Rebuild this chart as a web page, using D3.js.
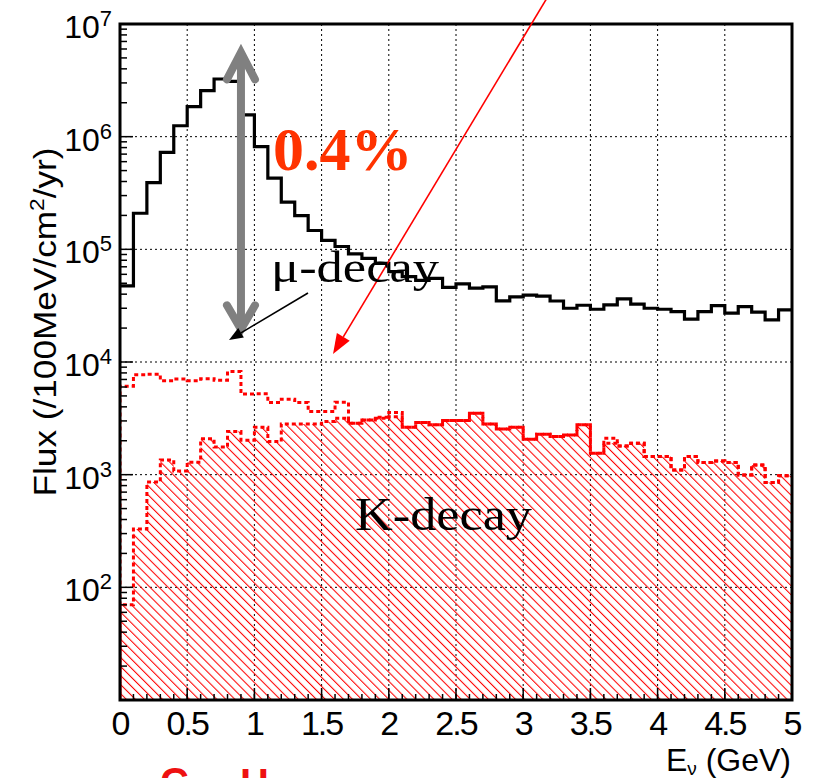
<!DOCTYPE html>
<html>
<head>
<meta charset="utf-8">
<script src="https://cdn.jsdelivr.net/npm/d3@7"></script>
<style>
  body { margin: 0; background: #fff; }
</style>
</head>
<body>
<script>
// bin lower edges (GeV), bins are 0.1 GeV wide
const binLow = [0, 0.1, 0.2, 0.3, 0.4, 0.5, 0.6, 0.7, 0.8, 0.9,
  1.0, 1.1, 1.2, 1.3, 1.4, 1.5, 1.6, 1.7, 1.8, 1.9,
  2.0, 2.1, 2.2, 2.3, 2.4, 2.5, 2.6, 2.7, 2.8, 2.9,
  3.0, 3.1, 3.2, 3.3, 3.4, 3.5, 3.6, 3.7, 3.8, 3.9,
  4.0, 4.1, 4.2, 4.3, 4.4, 4.5, 4.6, 4.7, 4.8, 4.9];
const binMax = 5;

// mu-decay flux
const muDecay = [47300, 209000, 391000, 726000, 1250000, 1850000, 2560000, 3250000, 3090000, 1560000,
  815000, 428000, 262000, 199000, 147000, 120000, 106000, 91200, 83200, 75000,
  63400, 57300, 53100, 55300, 45900, 49300, 45200, 46500, 34900, 37800,
  39200, 38500, 34800, 30000, 31900, 29400, 32100, 36300, 32600, 30000,
  29400, 28000, 24000, 28000, 31600, 27100, 31000, 27700, 23700, 29000];

// K-decay flux, upper dotted curve
const kDecayTotal = [6100, 7710, 7800, 6820, 7060, 6820, 7110, 6890, 8220, 5190,
  5220, 4370, 4680, 4370, 3630, 3630, 4400, 2860, 3060, 3240,
  3560, 2640, 2900, 2770, 3020, 3020, 3510, 2820, 2540, 2640,
  2060, 2290, 2180, 2250, 2770, 1550, 2110, 1800, 1900, 1450,
  1450, 1100, 1450, 1280, 1320, 1280, 995, 1220, 850, 980];

// K-decay flux, hatched curve
const kDecayHatched = [70, 330, 860, 1350, 1080, 1290, 2080, 1760, 2420, 2020,
  2630, 1970, 2820, 2820, 2820, 2960, 3160, 2860, 3060, 3160,
  3270, 2640, 2900, 2770, 3020, 3020, 3510, 2820, 2540, 2640,
  2060, 2290, 2180, 2250, 2770, 1550, 1900, 1800, 1900, 1450,
  1450, 1100, 1450, 1280, 1320, 1280, 995, 1220, 850, 980];

const xTicks = [0, 0.5, 1, 1.5, 2, 2.5, 3, 3.5, 4, 4.5, 5];
const xTickLabels = ["0", "0.5", "1", "1.5", "2", "2.5", "3", "3.5", "4", "4.5", "5"];
const yDecades = [1e2, 1e3, 1e4, 1e5, 1e6, 1e7];
const yDecadeExp = ["2", "3", "4", "5", "6", "7"];

const sans = "'Liberation Sans', Arial, Helvetica, sans-serif";
const serif = "'Liberation Serif', 'Times New Roman', serif";

const W = 815, H = 778;
const margin = { top: 24, right: 23, bottom: 78, left: 120 };
const width = W - margin.left - margin.right;
const height = H - margin.top - margin.bottom;

const svg = d3.select("body").append("svg")
  .attr("width", W).attr("height", H)
  .style("font-family", sans);

const defs = svg.append("defs");
defs.append("pattern")
  .attr("id", "hatch")
  .attr("patternUnits", "userSpaceOnUse")
  .attr("width", 6.4).attr("height", 10)
  .attr("patternTransform", "rotate(-45)")
  .append("line")
  .attr("x1", 0.5).attr("y1", 0).attr("x2", 0.5).attr("y2", 10)
  .attr("stroke", "#ff0000").attr("stroke-width", 1.1);
defs.append("clipPath").attr("id", "plotclip")
  .append("rect").attr("width", width).attr("height", height);

const g = svg.append("g")
  .attr("transform", `translate(${margin.left},${margin.top})`);

const x = d3.scaleLinear().domain([0, 5]).range([0, width]);
const y = d3.scaleLog().domain([10, 1e7]).range([height, 0]);

// grid
g.append("g").selectAll("line").data(xTicks.slice(1, -1)).join("line")
  .attr("x1", d => x(d)).attr("x2", d => x(d))
  .attr("y1", 0).attr("y2", height)
  .attr("stroke", "#000").attr("stroke-width", 1).attr("stroke-dasharray", "2,3");
g.append("g").selectAll("line").data(yDecades.slice(0, -1)).join("line")
  .attr("x1", 0).attr("x2", width)
  .attr("y1", d => y(d)).attr("y2", d => y(d))
  .attr("stroke", "#000").attr("stroke-width", 1).attr("stroke-dasharray", "2,3");

function histPoints(vals, fromBottom) {
  const pts = binLow.map((b, i) => [b, vals[i]]);
  pts.push([binMax, vals[vals.length - 1]]);
  if (fromBottom) pts.unshift([0, 10]);
  return pts;
}

const line = d3.line()
  .x(d => x(d[0])).y(d => y(d[1]))
  .curve(d3.curveStepAfter);

const area = d3.area()
  .x(d => x(d[0])).y0(height).y1(d => y(d[1]))
  .curve(d3.curveStepAfter);

const plot = g.append("g").attr("clip-path", "url(#plotclip)");

// hatched K-decay
plot.append("path")
  .datum(histPoints(kDecayHatched, false))
  .attr("d", area)
  .attr("fill", "url(#hatch)");

plot.append("path")
  .datum(histPoints(kDecayHatched, true))
  .attr("d", line)
  .attr("fill", "none").attr("stroke", "#ff0000").attr("stroke-width", 3)
  .attr("stroke-dasharray", "4,3");

plot.append("path")
  .datum(histPoints(kDecayTotal, true))
  .attr("d", line)
  .attr("fill", "none").attr("stroke", "#ff0000").attr("stroke-width", 3)
  .attr("stroke-dasharray", "4,3").attr("stroke-dashoffset", 3.5);

// mu-decay
plot.append("path")
  .datum(histPoints(muDecay, false))
  .attr("d", line)
  .attr("fill", "none").attr("stroke", "#000").attr("stroke-width", 3.2)
  .attr("stroke-linejoin", "miter");

// ticks
const minorY = [];
yDecades.slice(0, -1).concat([10]).forEach(dec => {
  for (let k = 2; k <= 9; k++) if (dec * k < 1e7) minorY.push(dec * k);
});
g.append("g").selectAll("line").data(minorY).join("line")
  .attr("x1", 0).attr("x2", 7)
  .attr("y1", d => y(d)).attr("y2", d => y(d))
  .attr("stroke", "#000").attr("stroke-width", 1.5);
g.append("g").selectAll("line").data(yDecades).join("line")
  .attr("x1", 0).attr("x2", 13)
  .attr("y1", d => y(d)).attr("y2", d => y(d))
  .attr("stroke", "#000").attr("stroke-width", 1.5);

g.append("g").selectAll("line").data(binLow.slice(1)).join("line")
  .attr("x1", d => x(d)).attr("x2", d => x(d))
  .attr("y1", height).attr("y2", height - 6)
  .attr("stroke", "#000").attr("stroke-width", 1.5);
g.append("g").selectAll("line").data(xTicks).join("line")
  .attr("x1", d => x(d)).attr("x2", d => x(d))
  .attr("y1", height).attr("y2", height - 12)
  .attr("stroke", "#000").attr("stroke-width", 1.5);

// frame
g.append("rect")
  .attr("width", width).attr("height", height)
  .attr("fill", "none").attr("stroke", "#000").attr("stroke-width", 3);

// tick labels
g.append("g").selectAll("text").data(xTicks).join("text")
  .attr("x", d => x(d)).attr("y", height + 35)
  .attr("text-anchor", "middle")
  .attr("font-size", 34).attr("letter-spacing", "-2px")
  .text((d, i) => xTickLabels[i]);

const yl = g.append("g").selectAll("text").data(yDecades).join("text")
  .attr("x", -8).attr("y", d => y(d) + 14)
  .attr("text-anchor", "end")
  .attr("font-size", 32);
yl.append("tspan").text("10");
yl.append("tspan").attr("dy", -12).attr("font-size", 22).text((d, i) => yDecadeExp[i]);

// axis titles
const yt = svg.append("text")
  .attr("transform", "translate(56,322) rotate(-90)")
  .attr("text-anchor", "middle")
  .attr("font-size", 31)
  .attr("textLength", 349).attr("lengthAdjust", "spacingAndGlyphs");
yt.append("tspan").text("Flux (/100MeV/cm");
yt.append("tspan").attr("dy", -12).attr("font-size", 20).text("2");
yt.append("tspan").attr("dy", 12).text("/yr)");

const xt = svg.append("text")
  .attr("x", 791).attr("y", 771)
  .attr("text-anchor", "end")
  .attr("font-size", 32);
xt.append("tspan").text("E");
xt.append("tspan").attr("dy", 4).attr("font-size", 19).text("ν");
xt.append("tspan").attr("dy", -4).text(" (GeV)");

// annotations
const ann = svg.append("g");
// grey double arrow
const ax = margin.left + x(0.9);
const ayTop = margin.top + y(5.6e6), ayBot = margin.top + y(1.95e4);
ann.append("line")
  .attr("x1", ax).attr("x2", ax).attr("y1", ayTop + 4).attr("y2", ayBot - 4)
  .attr("stroke", "#808080").attr("stroke-width", 8).attr("stroke-linecap", "round");
ann.append("polyline")
  .attr("points", `${ax - 14},${ayTop + 27} ${ax},${ayTop} ${ax + 14},${ayTop + 27}`)
  .attr("fill", "none").attr("stroke", "#808080").attr("stroke-width", 8)
  .attr("stroke-linecap", "round").attr("stroke-linejoin", "miter");
ann.append("polyline")
  .attr("points", `${ax - 14},${ayBot - 24} ${ax},${ayBot} ${ax + 14},${ayBot - 24}`)
  .attr("fill", "none").attr("stroke", "#808080").attr("stroke-width", 8)
  .attr("stroke-linecap", "round").attr("stroke-linejoin", "miter");

function arrow(x1, y1, x2, y2, color, w, headL, headW) {
  const a = Math.atan2(y2 - y1, x2 - x1);
  const bx = x2 - headL * Math.cos(a), by = y2 - headL * Math.sin(a);
  ann.append("line")
    .attr("x1", x1).attr("y1", y1).attr("x2", bx).attr("y2", by)
    .attr("stroke", color).attr("stroke-width", w);
  const px = Math.sin(a) * headW / 2, py = -Math.cos(a) * headW / 2;
  ann.append("polygon")
    .attr("points", `${x2},${y2} ${bx + px},${by + py} ${bx - px},${by - py}`)
    .attr("fill", color);
}
arrow(308, 293, 229, 340, "#000", 1.6, 14, 11);
arrow(547, -2, 333, 354, "#ff0000", 1.6, 20, 15);

ann.append("text")
  .attr("x", 273).attr("y", 170)
  .style("font-family", serif)
  .attr("font-weight", "bold").attr("font-size", 62)
  .attr("fill", "#ff3300")
  .text("0.4%");

ann.append("text")
  .attr("x", 271).attr("y", 282)
  .style("font-family", serif)
  .attr("font-size", 44)
  .attr("textLength", 168).attr("lengthAdjust", "spacingAndGlyphs")
  .text("μ-decay");

ann.append("text")
  .attr("x", 355).attr("y", 530)
  .style("font-family", serif)
  .attr("font-size", 46)
  .attr("textLength", 177).attr("lengthAdjust", "spacingAndGlyphs")
  .text("K-decay");

// red text cut off by the lower edge, as in the source picture
ann.append("text")
  .attr("x", 160).attr("y", 796)
  .attr("font-weight", "bold").attr("font-size", 40).attr("fill", "#ee1111")
  .text("C");
ann.append("text")
  .attr("x", 240).attr("y", 797)
  .attr("font-weight", "bold").attr("font-size", 40).attr("fill", "#ee1111")
  .text("H");
</script>
</body>
</html>
